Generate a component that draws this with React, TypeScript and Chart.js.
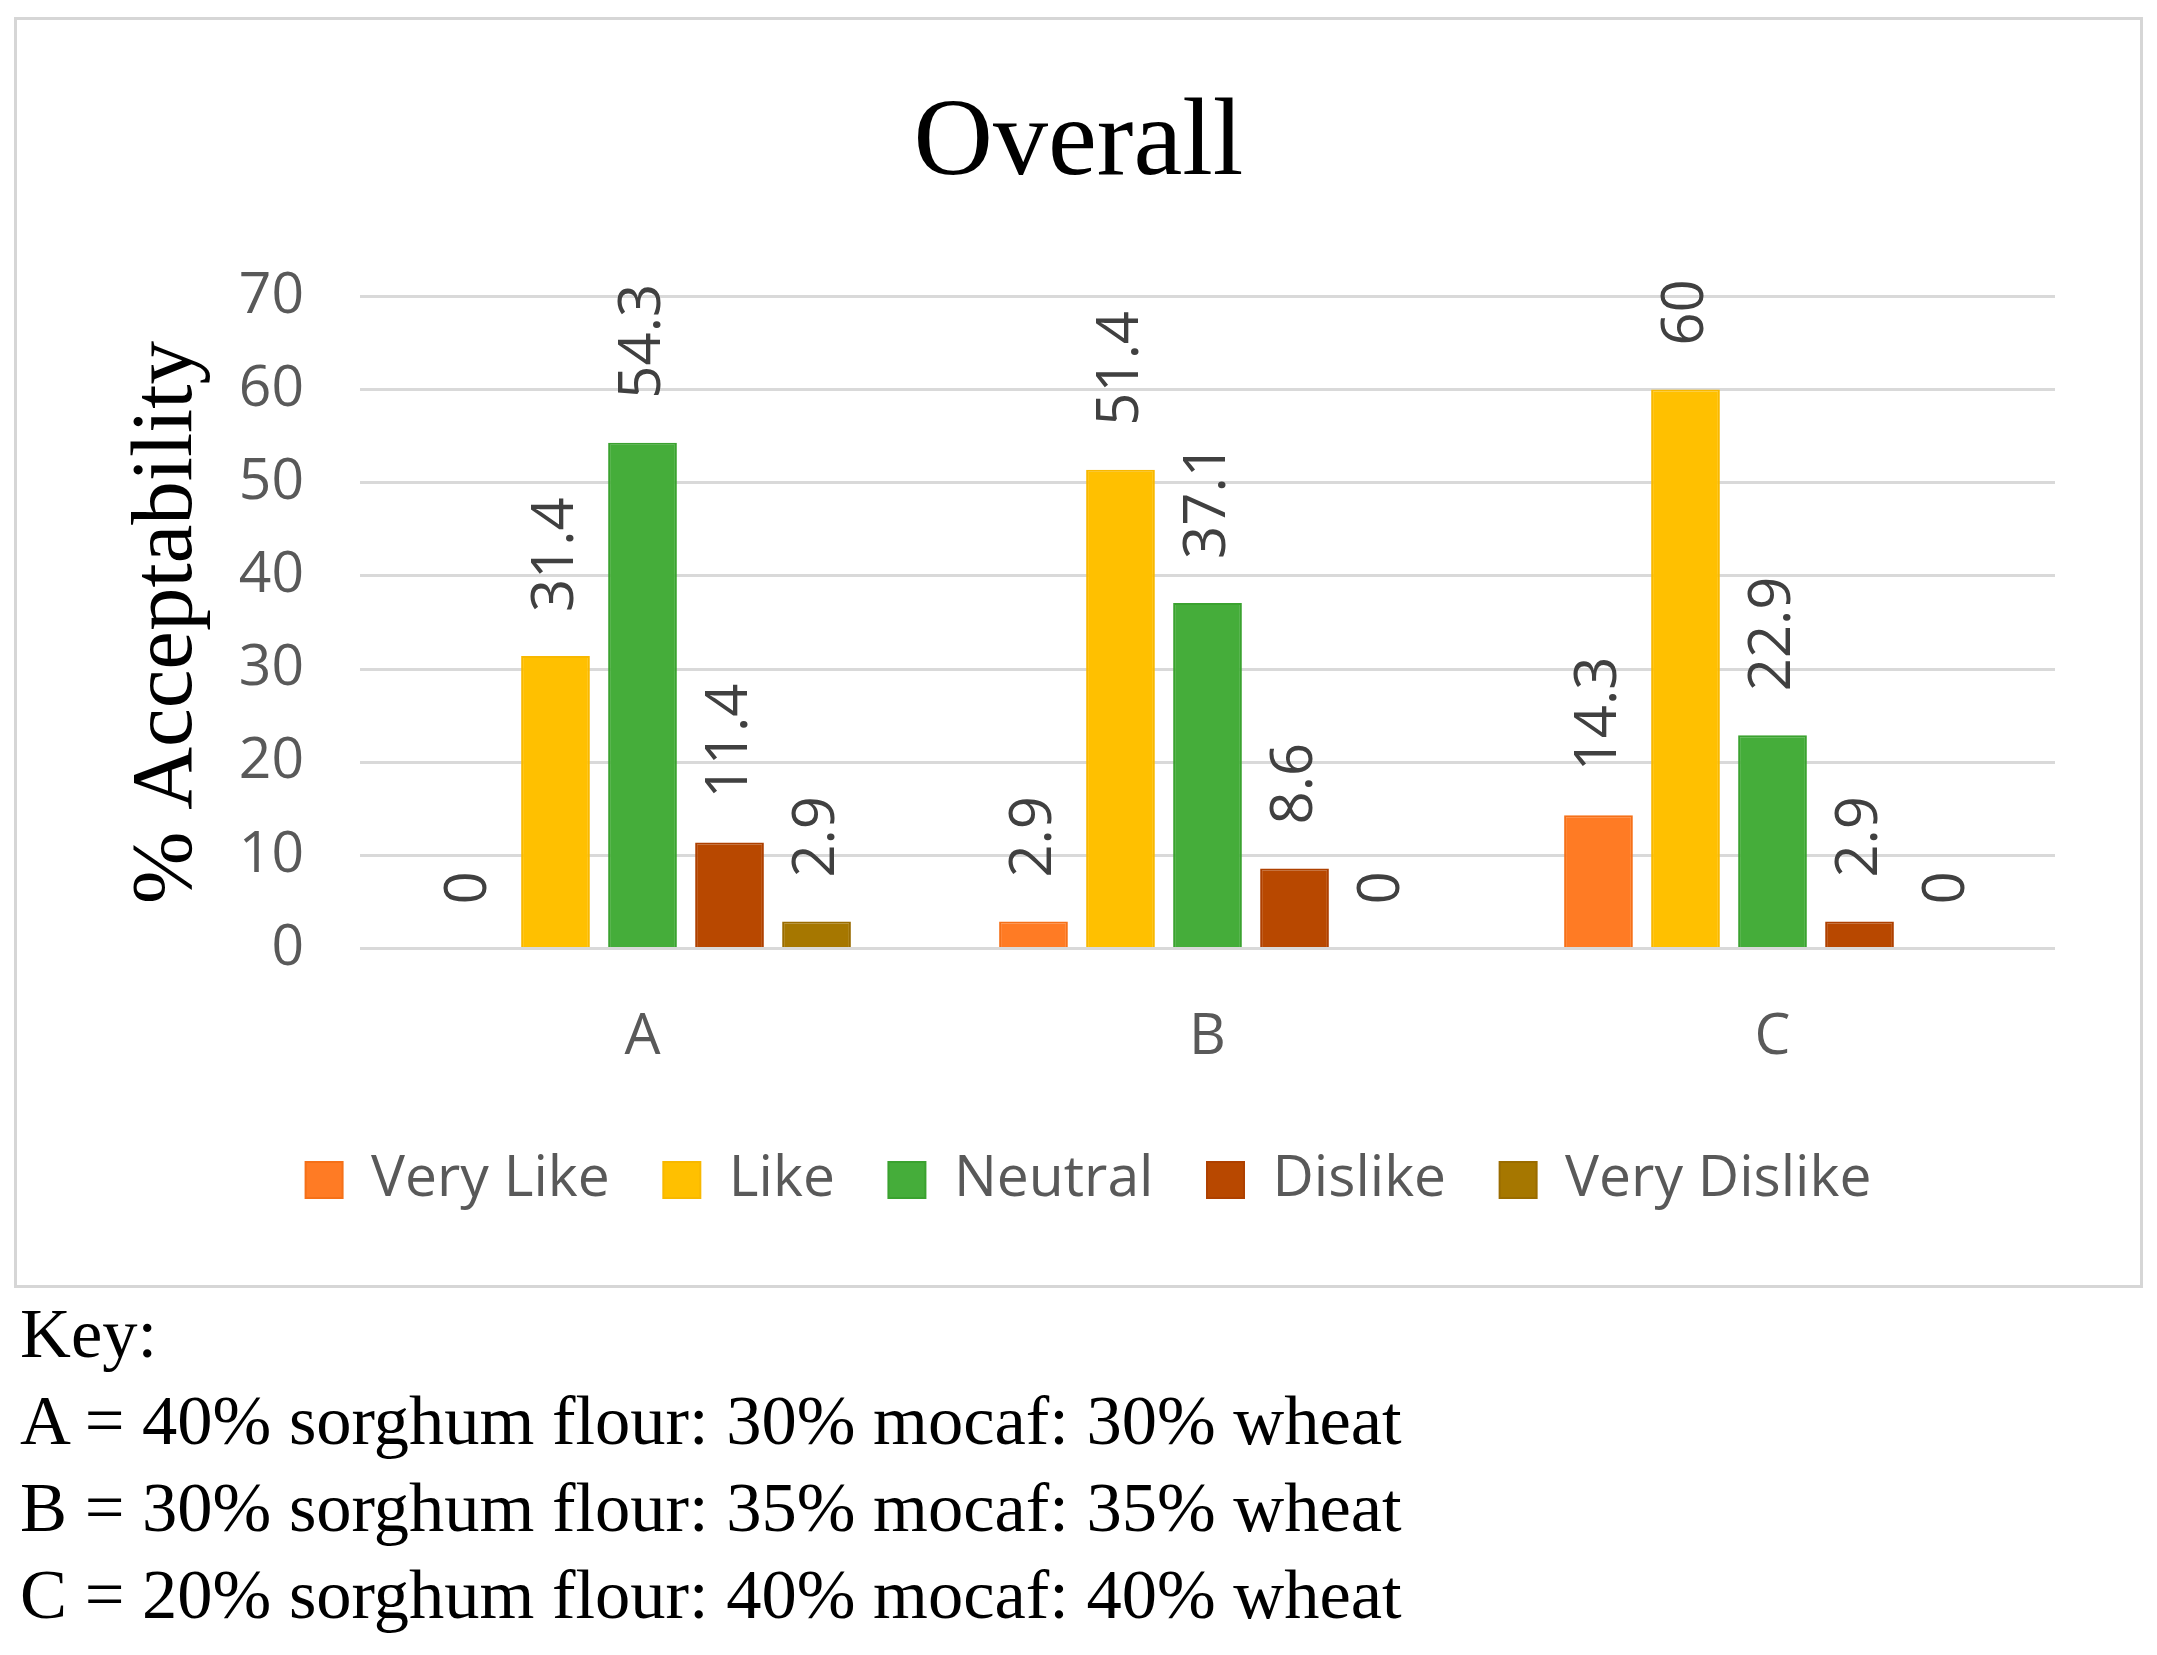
import React, { useEffect, useRef } from "react";
import { Chart, registerables } from "chart.js";

Chart.register(...registerables);

const categories = ["A", "B", "C"];
const seriesNames = ["Very Like", "Like", "Neutral", "Dislike", "Very Dislike"];
const veryLike = [0, 2.9, 14.3];
const like = [31.4, 51.4, 60];
const neutral = [54.3, 37.1, 22.9];
const dislike = [11.4, 8.6, 2.9];
const veryDislike = [2.9, 0, 0];
const seriesColors = ["#FF7B24", "#FFC000", "#45AD3A", "#B84800", "#A67700"];
const seriesBorders = ["#F57018", "#F8B800", "#3AA22F", "#AE4000", "#9A6C00"];
const yTicks = [0, 10, 20, 30, 40, 50, 60, 70];
const titleText = "Overall";
const yTitle = "% Acceptability";
const keyLines = [
  "Key:",
  "A = 40% sorghum flour: 30% mocaf: 30% wheat",
  "B = 30% sorghum flour: 35% mocaf: 35% wheat",
  "C = 20% sorghum flour: 40% mocaf: 40% wheat",
];

const SANS = "'Open Sans', sans-serif";
const SERIF = "'Liberation Serif', serif";

const valueLabels = {
  id: "valueLabels",
  afterDatasetsDraw(chart: any) {
    const ctx = chart.ctx;
    ctx.save();
    ctx.font = `58px ${SANS}`;
    ctx.fillStyle = "#404040";
    ctx.textAlign = "left";
    ctx.textBaseline = "middle";
    chart.data.datasets.forEach((ds: any, di: number) => {
      const meta = chart.getDatasetMeta(di);
      meta.data.forEach((bar: any, i: number) => {
        const v = ds.data[i];
        ctx.save();
        ctx.translate(bar.x + 1, bar.y - 44);
        ctx.rotate(-Math.PI / 2);
        ctx.fillText(String(v), 0, 0);
        ctx.restore();
      });
    });
    ctx.restore();
  },
};

const legendShift = {
  id: "legendShift",
  afterLayout(chart: any) {
    if (chart.legend) {
      chart.legend.left += 10;
      chart.legend.right += 10;
    }
  },
};

export default function App() {
  const ref = useRef<HTMLCanvasElement | null>(null);

  useEffect(() => {
    if (!ref.current) return;
    const allSeries = [veryLike, like, neutral, dislike, veryDislike];
    const chart = new Chart(ref.current, {
      type: "bar",
      data: {
        labels: categories,
        datasets: allSeries.map((d, i) => ({
          label: seriesNames[i],
          data: d,
          backgroundColor: seriesColors[i],
          borderColor: seriesBorders[i],
          borderWidth: 2,
          categoryPercentage: 0.77,
          barPercentage: 0.79,
        })),
      },
      options: {
        animation: false,
        responsive: true,
        maintainAspectRatio: false,
        devicePixelRatio: 1,
        events: [],
        layout: { padding: { top: 0, left: 0, right: 0, bottom: 66.5 } },
        plugins: {
          tooltip: { enabled: false },
          title: {
            display: true,
            text: titleText,
            color: "#000000",
            font: { family: SERIF, size: 110, weight: "normal", lineHeight: 1.2 },
            padding: { top: 58.9, bottom: 85.5 },
          },
          legend: {
            display: true,
            position: "bottom",
            labels: {
              boxWidth: 37,
              boxHeight: 36,
              padding: 53.5,
              color: "#595959",
              font: { family: SANS, size: 57 },
            },
          },
        },
        scales: {
          x: {
            grid: { display: false },
            border: { display: false },
            ticks: {
              color: "#595959",
              font: { family: SANS, size: 57 },
              padding: 47,
            },
            afterFit: (s: any) => {
              s.height = 149.4;
            },
          },
          y: {
            min: 0,
            max: 70,
            afterBuildTicks: (s: any) => {
              s.ticks = yTicks.map((v) => ({ value: v }));
            },
            grid: { color: "#D9D9D9", lineWidth: 3, drawTicks: false },
            border: { display: false },
            ticks: {
              color: "#595959",
              font: { family: SANS, size: 57 },
              padding: 56,
            },
            title: {
              display: true,
              text: yTitle,
              color: "#000000",
              font: { family: SERIF, size: 87, lineHeight: 1.2 },
              padding: { top: 99, bottom: 0 },
            },
            afterFit: (s: any) => {
              s.width = 343;
            },
          },
          yRight: {
            position: "right",
            display: true,
            grid: { display: false, drawTicks: false },
            border: { display: false },
            ticks: { display: false },
            afterFit: (s: any) => {
              s.width = 85;
            },
          },
        },
      },
      plugins: [valueLabels, legendShift],
    } as any);
    return () => chart.destroy();
  }, []);

  return (
    <div style={{ position: "relative", width: 2141, height: 1639, overflow: "hidden", background: "#ffffff" }}>
      <div
        style={{
          position: "absolute",
          left: 6,
          top: 9,
          width: 2129,
          height: 1271,
          boxSizing: "border-box",
          border: "3px solid #D6D6D6",
          background: "#ffffff",
        }}
      >
        <div style={{ position: "relative", width: 2123, height: 1265 }}>
          <canvas ref={ref} />
        </div>
      </div>
      <div
        style={{
          position: "absolute",
          left: 12,
          top: 1282,
          fontFamily: SERIF,
          fontSize: 70.5,
          lineHeight: "87px",
          color: "#000000",
          whiteSpace: "nowrap",
        }}
      >
        {keyLines.map((l, i) => (
          <div key={i}>{l}</div>
        ))}
      </div>
    </div>
  );
}
